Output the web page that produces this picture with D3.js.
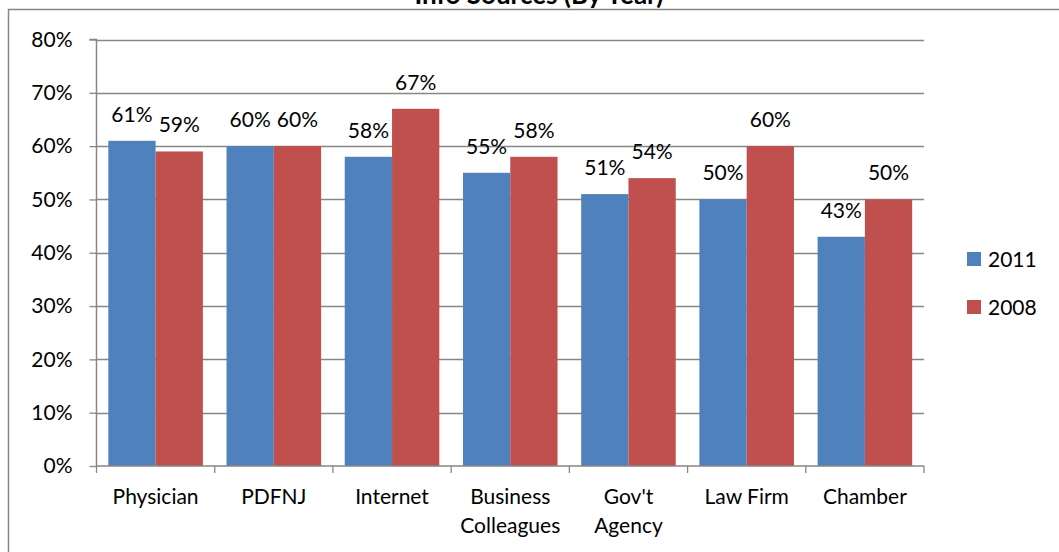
<!DOCTYPE html>
<html><head><meta charset="utf-8">
<script src="https://cdn.jsdelivr.net/npm/d3@7"></script>
<style>
html,body{margin:0;padding:0;background:#fff;overflow:hidden;}
svg{display:block;}
text{font-family:Lato,"Open Sans",sans-serif;fill:#000;}
</style></head>
<body>
<script>
const title = "Info Sources (By Year)";
const categories = ["Physician", "PDFNJ", "Internet", "Business\nColleagues", "Gov't\nAgency", "Law Firm", "Chamber"];
const seriesNames = ["2011", "2008"];
const values2011 = [61, 60, 58, 55, 51, 50, 43];
const values2008 = [59, 60, 67, 58, 54, 60, 50];
const yTicks = [0, 10, 20, 30, 40, 50, 60, 70, 80];
const colors = ["#4F81BD", "#C0504D"];

const W = 1059, H = 552;
const FS = 21;
const svg = d3.select("body").append("svg").attr("width", W).attr("height", H);

// chart border
svg.append("rect").attr("x", 8.5).attr("y", 9.5).attr("width", W + 10).attr("height", H + 10)
  .attr("fill", "none").attr("stroke", "#868686").attr("stroke-width", 1.5);

// title (clipped at top, as in the reference)
svg.append("text").attr("x", 539).attr("y", 4).attr("text-anchor", "middle")
  .attr("font-weight", "bold").attr("font-size", 26).text(title);

const plot = {left: 96.5, right: 924, top: 39.5, bottom: 466};
const x0 = d3.scaleBand().domain(categories).range([plot.left, plot.right]).paddingInner(0).paddingOuter(0);
const x1 = d3.scaleBand().domain(seriesNames).range([0, x0.bandwidth()]).paddingInner(0).paddingOuter(0.25);
const y = d3.scaleLinear().domain([0, 80]).range([plot.bottom, plot.top]);

// gridlines
svg.append("g").selectAll("line").data(yTicks.filter(d => d > 0)).join("line")
  .attr("x1", plot.left).attr("x2", plot.right)
  .attr("y1", d => Math.round(y(d)) + 0.5).attr("y2", d => Math.round(y(d)) + 0.5)
  .attr("stroke", "#868686").attr("stroke-width", 1.3);

// bars
const data = categories.map((c, i) => ({c, vals: [values2011[i], values2008[i]]}));
const groups = svg.append("g").selectAll("g").data(data).join("g")
  .attr("transform", d => `translate(${x0(d.c)},0)`);
groups.selectAll("rect").data(d => d.vals.map((v, j) => ({s: seriesNames[j], v, j}))).join("rect")
  .attr("x", d => x1(d.s)).attr("width", x1.bandwidth())
  .attr("y", d => y(d.v)).attr("height", d => y(0) - y(d.v))
  .attr("fill", d => colors[d.j]);
groups.selectAll("text").data(d => d.vals.map((v, j) => ({s: seriesNames[j], v, j}))).join("text")
  .attr("x", d => x1(d.s) + x1.bandwidth() / 2).attr("y", d => y(d.v) - 19)
  .attr("text-anchor", "middle").attr("font-size", FS).text(d => d.v + "%");

// y axis
const yAxis = d3.axisLeft(y).tickValues(yTicks).tickFormat(d => d + "%").tickSize(7).tickPadding(17);
const gy = svg.append("g").attr("transform", `translate(${plot.left},0)`).call(yAxis);
gy.select(".domain").attr("stroke", "#868686").attr("stroke-width", 1.5).attr("d", `M-7,${plot.top}H0V${plot.bottom}`);
gy.selectAll(".tick line").attr("stroke", "#868686").attr("stroke-width", 1.3);
gy.selectAll(".tick text").attr("font-size", FS).attr("font-family", "Lato,'Open Sans',sans-serif").attr("fill", "#000");

// x axis
const xTickPos = d3.scaleLinear().domain([0, categories.length]).range([plot.left, plot.right]);
const gx = svg.append("g");
gx.append("line").attr("x1", plot.left).attr("x2", plot.right).attr("y1", plot.bottom).attr("y2", plot.bottom)
  .attr("stroke", "#868686").attr("stroke-width", 1.5);
gx.selectAll("line.t").data(d3.range(categories.length + 1)).join("line").attr("class", "t")
  .attr("x1", d => xTickPos(d)).attr("x2", d => xTickPos(d)).attr("y1", plot.bottom).attr("y2", plot.bottom + 7)
  .attr("stroke", "#868686").attr("stroke-width", 1.3);
const xl = gx.selectAll("text").data(categories).join("text")
  .attr("x", d => x0(d) + x0.bandwidth() / 2).attr("y", 504)
  .attr("text-anchor", "middle").attr("font-size", FS);
xl.selectAll("tspan").data(d => d.split("\n")).join("tspan")
  .attr("x", function() { return d3.select(this.parentNode).attr("x"); })
  .attr("dy", (d, i) => i === 0 ? 0 : 29).text(d => d);

// legend
const lg = svg.append("g").selectAll("g").data(seriesNames).join("g")
  .attr("transform", (d, i) => `translate(967,${252 + i * 48})`);
lg.append("rect").attr("width", 14).attr("height", 14).attr("fill", (d, i) => colors[i]);
lg.append("text").attr("x", 21).attr("y", 14.5).attr("font-size", FS).text(d => d);
</script>
</body></html>
